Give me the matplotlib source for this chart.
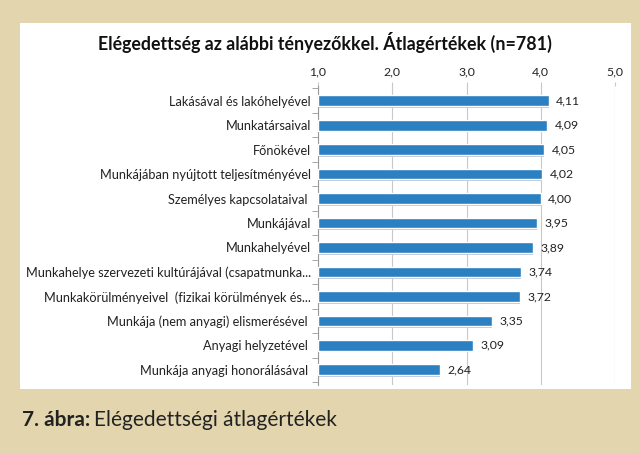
import numpy as np
import matplotlib
matplotlib.use('Agg')
import matplotlib.pyplot as plt
import matplotlib.patches as mpatches
from matplotlib.ticker import FixedLocator, FuncFormatter

plt.rcParams['font.family'] = ['Lato', 'DejaVu Sans']

# data
categories = [
    'Lakásával és lakóhelyével',
    'Munkatársaival',
    'Főnökével',
    'Munkájában nyújtott teljesítményével',
    'Személyes kapcsolataival ',
    'Munkájával',
    'Munkahelyével',
    'Munkahelye szervezeti kultúrájával (csapatmunka...',
    'Munkakörülményeivel  (fizikai körülmények és...',
    'Munkája (nem anyagi) elismerésével ',
    'Anyagi helyzetével ',
    'Munkája anyagi honorálásával ',
]
values = [4.11, 4.09, 4.05, 4.02, 4.00, 3.95, 3.89, 3.74, 3.72, 3.35, 3.09, 2.64]
x_ticks = [1.0, 2.0, 3.0, 4.0, 5.0]

title = 'Elégedettség az alábbi tényezőkkel. Átlagértékek (n=781)'
beige = '#e3d6ae'
bar_color = '#2b80c2'
grid_color = '#c8c8c8'

fig = plt.figure(figsize=(6.39, 4.54), dpi=100)
fig.patch.set_facecolor(beige)

# white chart panel
panel = mpatches.Rectangle((20 / 639, 1 - 389 / 454), (631 - 20) / 639, (389 - 23) / 454,
                           transform=fig.transFigure, facecolor='white', edgecolor='none', zorder=0)
fig.add_artist(panel)

ax = fig.add_axes([318 / 639, 1 - 385 / 454, (615 - 318) / 639, (385 - 86) / 454])
ax.set_facecolor('white')

y = np.arange(len(categories))
# soft shadow behind each bar
ax.barh(y + 0.06, np.array(values) - 1.0, left=1.0, height=0.46, color='#b9c4cf',
        edgecolor='none', zorder=2)
ax.barh(y, np.array(values) - 1.0, left=1.0, height=0.44, color=bar_color,
        edgecolor='white', linewidth=1.0, zorder=3)

for yi, v in zip(y, values):
    ax.text(v + 0.1, yi, f'{v:.2f}'.replace('.', ','), va='center', ha='left',
            fontsize=8.8, color='#222222', zorder=4)

ax.set_xlim(1.0, 5.0)
ax.set_ylim(len(categories) - 0.38, -0.6)
ax.xaxis.set_major_locator(FixedLocator(x_ticks))
ax.xaxis.set_major_formatter(FuncFormatter(lambda v, p: f'{v:.1f}'.replace('.', ',')))
ax.xaxis.tick_top()
ax.tick_params(axis='x', which='major', length=3, color=grid_color, labelsize=8.8,
               labelcolor='#222222', pad=3)
ax.grid(axis='x', color=grid_color, linewidth=0.8, zorder=1)

ax.set_yticks(y)
ax.set_yticklabels(categories, fontsize=9.2, color='#222222')
ax.set_yticks(np.arange(len(categories) + 1) - 0.5, minor=True)
ax.tick_params(axis='y', which='major', length=0, pad=5)
ax.tick_params(axis='y', which='minor', length=4, color='#999999', direction='out')

for side in ['top', 'right', 'bottom']:
    ax.spines[side].set_visible(False)
ax.spines['left'].set_color('#999999')
ax.spines['left'].set_linewidth(0.8)

fig.text(325 / 639, 1 - 42 / 454, title, ha='center', va='center', fontsize=12.8,
         fontweight='bold', color='#111111')

cap1 = fig.text(22 / 639, 1 - 420 / 454, '7. ábra:', ha='left', va='center', fontsize=15,
                fontweight='bold', color='#222222')
renderer = fig.canvas.get_renderer()
bb = cap1.get_window_extent(renderer)
fig.text((bb.x1 + 4) / 639, 1 - 420 / 454, 'Elégedettségi átlagértékek', ha='left', va='center',
         fontsize=15, color='#222222')

fig.savefig('out.png', dpi=100, facecolor=fig.get_facecolor())
